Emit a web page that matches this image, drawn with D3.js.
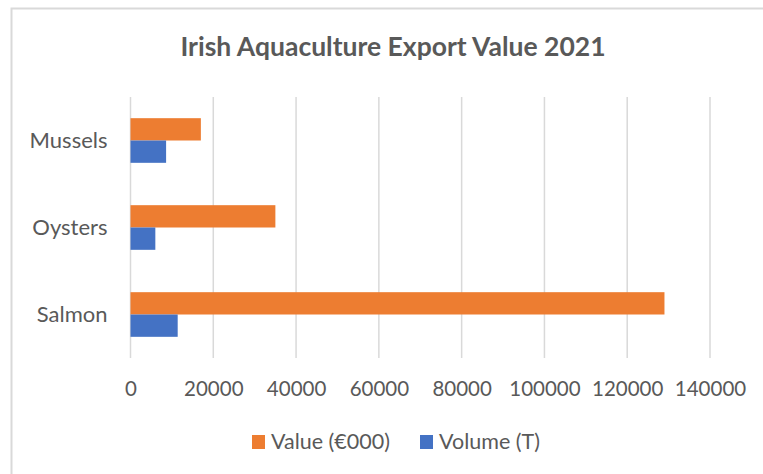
<!DOCTYPE html>
<html>
<head>
<meta charset="utf-8">
<script src="https://cdn.jsdelivr.net/npm/d3@7"></script>
<style>
  body { margin: 0; background: #fff; }
  svg { display: block; font-family: Lato, "Open Sans", sans-serif; }
</style>
</head>
<body>
<svg id="chart"></svg>
<script>
const categories = ["Mussels", "Oysters", "Salmon"];
const seriesNames = ["Value (€000)", "Volume (T)"];
const valueData = [17000, 35000, 129000];
const volumeData = [8600, 6000, 11400];
const xTicks = [0, 20000, 40000, 60000, 80000, 100000, 120000, 140000];
const colors = ["#ED7D31", "#4472C4"];

const W = 763, H = 474;
const plot = { left: 130.5, right: 710, top: 97, bottom: 358 };

const svg = d3.select("#chart").attr("width", W).attr("height", H);

// chart frame (only top and left edges visible)
svg.append("path")
  .attr("d", `M11.5,${H} V8.5 H${W}`)
  .attr("fill", "none")
  .attr("stroke", "#d9d9d9")
  .attr("stroke-width", 2);

svg.append("text")
  .attr("x", 393)
  .attr("y", 56)
  .attr("text-anchor", "middle")
  .attr("font-size", "26.5px")
  .attr("font-weight", "bold")
  .attr("fill", "#595959")
  .text("Irish Aquaculture Export Value 2021");

const x = d3.scaleLinear().domain([0, 140000]).range([plot.left, plot.right]);
const y0 = d3.scaleBand().domain(categories).range([plot.top, plot.bottom])
  .paddingInner(0.487).paddingOuter(0.2435);
const y1 = d3.scaleBand().domain(seriesNames).range([0, y0.bandwidth()]);

// gridlines
svg.append("g")
  .selectAll("line")
  .data(xTicks)
  .join("line")
  .attr("x1", (d) => x(d))
  .attr("x2", (d) => x(d))
  .attr("y1", plot.top)
  .attr("y2", plot.bottom)
  .attr("stroke", "#d9d9d9")
  .attr("stroke-width", 1.5);

// bars
const rows = categories.map((c, i) => ({
  cat: c,
  vals: [
    { s: seriesNames[0], v: valueData[i] },
    { s: seriesNames[1], v: volumeData[i] },
  ],
}));

svg.append("g")
  .selectAll("g")
  .data(rows)
  .join("g")
  .attr("transform", (d) => `translate(0,${y0(d.cat)})`)
  .selectAll("rect")
  .data((d) => d.vals)
  .join("rect")
  .attr("x", x(0))
  .attr("y", (d) => y1(d.s))
  .attr("width", (d) => x(d.v) - x(0))
  .attr("height", y1.bandwidth())
  .attr("fill", (d, i) => colors[i]);

// x axis
const xAxis = svg.append("g")
  .attr("transform", `translate(0,${plot.bottom})`)
  .call(d3.axisBottom(x).tickValues(xTicks).tickSize(0).tickFormat(d3.format("d")));
xAxis.select(".domain").remove();
xAxis.selectAll("text")
  .attr("y", 38)
  .attr("dy", 0)
  .attr("font-size", "20.5px")
  .attr("font-family", "Lato, sans-serif")
  .attr("fill", "#595959");

// y axis
const yAxis = svg.append("g")
  .attr("transform", `translate(${plot.left},0)`)
  .call(d3.axisLeft(y0).tickSize(0).tickPadding(23));
yAxis.select(".domain").remove();
yAxis.selectAll("text")
  .attr("dy", "0.35em")
  .attr("font-size", "22px")
  .attr("font-family", "Lato, sans-serif")
  .attr("fill", "#595959");

// legend
const legendX = [252, 420];
const legend = svg.append("g");
seriesNames.forEach((s, i) => {
  legend.append("rect")
    .attr("x", legendX[i])
    .attr("y", 435)
    .attr("width", 13)
    .attr("height", 14)
    .attr("fill", colors[i]);
  legend.append("text")
    .attr("x", legendX[i] + 19)
    .attr("y", 449)
    .attr("font-size", "21.5px")
    .attr("fill", "#595959")
    .text(s);
});
</script>
</body>
</html>
